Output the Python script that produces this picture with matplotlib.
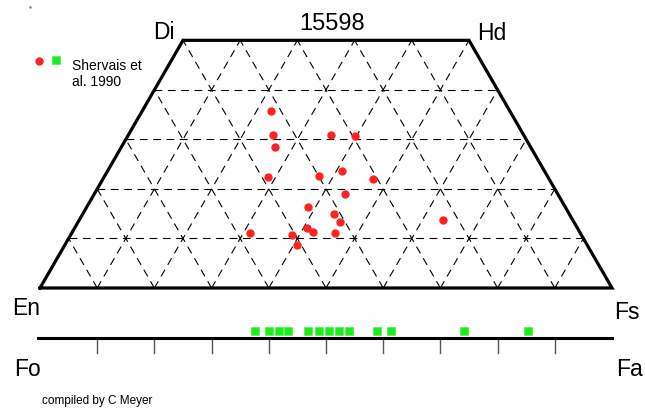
import matplotlib as mpl
mpl.use("Agg")
from matplotlib import pyplot as plt
import numpy as np

mpl.rcParams["font.family"] = ["Liberation Sans", "DejaVu Sans"]

# pyroxene analyses (Wo, Fs in mol %)
px_wo = [35.8, 30.9, 28.5, 30.9, 30.7, 22.5, 22.7, 23.7, 22.0, 19.0,
         16.4, 14.9, 13.3, 13.8, 11.1, 12.1, 11.3, 11.1, 10.8, 8.7]
px_fs = [22.4, 25.3, 26.9, 35.4, 39.7, 28.6, 37.4, 40.9, 47.3, 43.8,
         38.6, 44.0, 45.8, 63.6, 31.2, 40.6, 42.0, 46.1, 38.7, 40.5]
# olivine analyses (Fa mol %)
ol_fa = [37.5, 40.0, 41.7, 43.3, 46.9, 48.7, 50.6, 52.3, 54.0, 58.9,
         61.3, 74.1, 85.4]
grid_steps = [10, 20, 30, 40, 50, 60, 70, 80, 90]

# quadrilateral placement in figure pixels
x0, x1, ybase = 40, 612, 289
W = x1 - x0
H = W * np.sqrt(3) / 2


def tern(wo, fs):
    wo = np.asarray(wo, float)
    fs = np.asarray(fs, float)
    x = x0 + W * (fs + wo / 2) / 100
    y = ybase - H * wo / 100
    return x, y


fig = plt.figure(figsize=(6.45, 4.10), dpi=100)
ax = fig.add_axes([0, 0, 1, 1])
ax.set_xlim(0, 645)
ax.set_ylim(410, 0)
ax.axis("off")

dash = dict(color="black", lw=0.8, linestyle=(0, (7, 5)), zorder=1)
# horizontal Wo lines
for wo in [10, 20, 30, 40]:
    x, y = tern([wo, wo], [0, 100 - wo])
    ax.plot(x, y, **dash)
# constant Fs and constant En lines
for c in grid_steps:
    top = min(50, 100 - c)
    x, y = tern([0, top], [c, c])
    ax.plot(x, y, **dash)
    x, y = tern([0, top], [100 - c, 100 - c - top])
    ax.plot(x, y, **dash)

# outline
x, y = tern([0, 50, 50, 0, 0], [0, 0, 50, 100, 0])
ax.plot(x, y, color="black", lw=2.3, solid_joinstyle="miter", zorder=3)

# pyroxene points
x, y = tern(px_wo, px_fs)
ax.plot(x, y, "o", color="#ff2222", ms=5, mec="#ff2222", zorder=4)

# olivine bar
yol = 339
ax.plot([38, 612], [yol, yol], color="black", lw=2.2, zorder=3)
for f in grid_steps:
    xt = x0 + W * f / 100
    ax.plot([xt, xt], [yol + 1, yol + 15], color="#555555", lw=1, zorder=2)
ax.plot(x0 + W * np.array(ol_fa) / 100, [332] * len(ol_fa), "s",
        color="#1aef1a", mec="#5cf05c", ms=6.2, mew=0.6, zorder=4)

# labels
lab = dict(fontsize=16.5, va="baseline")
ax.text(164, 39, "Di", ha="center", **lab)
ax.text(492, 40, "Hd", ha="center", **lab)
ax.text(332, 30, "15598", ha="center", fontsize=17, va="baseline")
ax.text(26, 315, "En", ha="center", **lab)
ax.text(627, 319, "Fs", ha="center", **lab)
ax.text(27, 376, "Fo", ha="center", **lab)
ax.text(629, 376, "Fa", ha="center", **lab)

# legend
ax.plot([39], [62], "o", color="#ff2222", ms=5)
ax.plot([56], [61], "s", color="#1aef1a", mec="#5cf05c", ms=6.2, mew=0.6)
ax.text(72.5, 70, "Shervais et", fontsize=10, va="baseline")
ax.text(72.5, 86, "al. 1990", fontsize=10, va="baseline")

ax.text(42, 404, "compiled by C Meyer", fontsize=8.5, va="baseline")
ax.plot([30], [8], ".", color="#777777", ms=1.5)

plt.savefig("out.png", dpi=100)
